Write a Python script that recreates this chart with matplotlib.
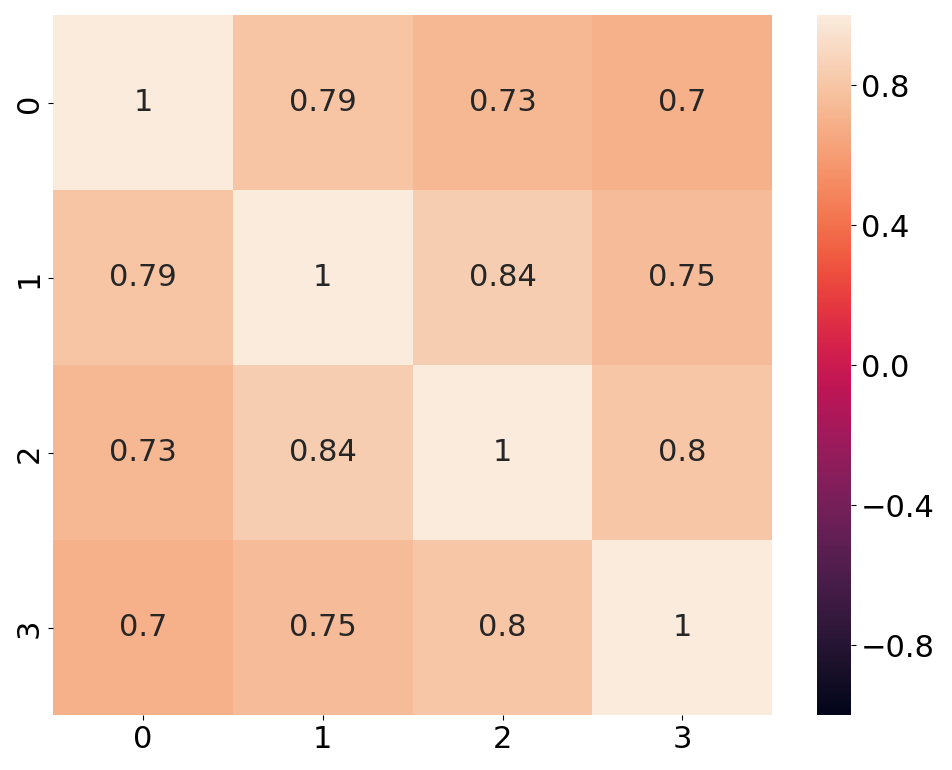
import numpy as np
import pandas as pd
import seaborn as sns
import matplotlib.pyplot as plt

# correlation values
labels = ["0", "1", "2", "3"]
row0 = [1.00, 0.79, 0.73, 0.70]
row1 = [0.79, 1.00, 0.84, 0.75]
row2 = [0.73, 0.84, 1.00, 0.80]
row3 = [0.70, 0.75, 0.80, 1.00]
cbar_ticks = [-0.8, -0.4, 0.0, 0.4, 0.8]

corr = pd.DataFrame([row0, row1, row2, row3], index=labels, columns=labels)

fig = plt.figure(figsize=(9.52, 7.7), dpi=100)
ax = fig.add_axes([0.056, 0.071, 0.755, 0.909])
cax = fig.add_axes([0.858, 0.071, 0.036, 0.909])

sns.heatmap(corr, vmin=-1, vmax=1, annot=True, ax=ax, cbar_ax=cax,
            annot_kws={"size": 22})

ax.tick_params(axis="both", labelsize=22)
ax.set_yticklabels(labels, rotation=90, va="center")
cax.set_yticks(cbar_ticks)
cax.set_yticklabels(["\u22120.8", "\u22120.4", "0.0", "0.4", "0.8"])
cax.tick_params(labelsize=22)

fig.savefig("out.png", dpi=100)
